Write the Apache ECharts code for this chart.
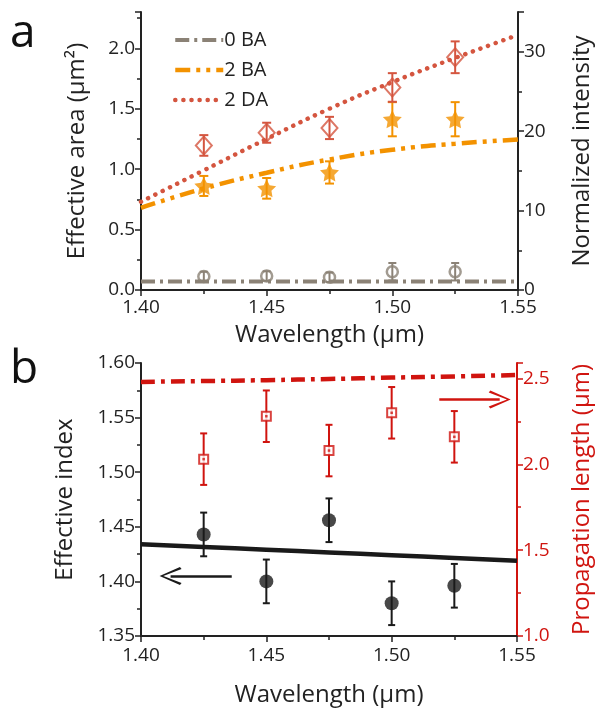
<!DOCTYPE html>
<html><head><meta charset="utf-8">
<script src="https://cdn.jsdelivr.net/npm/echarts@6/dist/echarts.min.js"></script>
<style>html,body{margin:0;padding:0;background:#fff}#c{width:602px;height:708px}</style>
</head><body><div id="c"></div>
<script>
// ---------- data ----------
const wlCurve = [1.40, 1.425, 1.45, 1.475, 1.50, 1.525, 1.55];
const wlMeas = [1.425, 1.45, 1.475, 1.50, 1.525];
// panel a: simulated effective area (µm²)
const area0BA = [0.07, 0.07, 0.07, 0.07, 0.07, 0.07, 0.07];
const area2BA = [0.68, 0.84, 0.97, 1.08, 1.16, 1.21, 1.245];
const area2DA = [0.73, 0.99, 1.25, 1.50, 1.72, 1.92, 2.11];
// panel a: measured normalized intensity + errors
const int0BA = [1.7, 1.76, 1.6, 2.3, 2.3];
const err0BA = [0.6, 0.6, 0.6, 1.1, 1.1];
const int2BA = [13.1, 12.8, 14.8, 21.5, 21.5];
const err2BA = [1.26, 1.3, 1.4, 2.15, 2.15];
const int2DA = [18.2, 19.8, 20.4, 25.5, 29.3];
const err2DA = [1.3, 1.26, 1.4, 1.8, 2.0];
// panel b
const indexSim = [1.434, 1.4315, 1.429, 1.4265, 1.424, 1.4215, 1.419];
const indexMeas = [1.443, 1.400, 1.456, 1.380, 1.396];
const indexErr = [0.02, 0.02, 0.02, 0.02, 0.02];
const propSim = [2.48, 2.485, 2.49, 2.497, 2.505, 2.512, 2.52];
const propMeas = [2.03, 2.28, 2.08, 2.30, 2.16];
const propErr = [0.15, 0.15, 0.15, 0.15, 0.15];
const legendNames = ['0 BA', '2 BA', '2 DA'];

// ---------- styles ----------
const FONT = '"Open Sans", sans-serif';
const GRAY = '#8b8276', ORANGE = '#f39200', CORAL = '#d4553f', RED = '#d0140f', BLACK = '#1a1a1a';
const pair = (xs, ys) => xs.map((x, i) => [x, ys[i]]);
const triple = (xs, ys, es) => xs.map((x, i) => [x, ys[i], es[i]]);

function errSeries(name, xi, yi, data, color, cap, lw) {
  return {
    type: 'custom', name: name, xAxisIndex: xi, yAxisIndex: yi, z: 3,
    encode: {x: 0, y: 1},
    data: data,
    renderItem: function (params, api) {
      const x = api.value(0), y = api.value(1), e = api.value(2);
      const lo = api.coord([x, y - e]), hi = api.coord([x, y + e]);
      const st = {stroke: color, lineWidth: lw};
      return {type: 'group', children: [
        {type: 'line', shape: {x1: lo[0], y1: lo[1], x2: hi[0], y2: hi[1]}, style: st},
        {type: 'line', shape: {x1: lo[0] - cap, y1: lo[1], x2: lo[0] + cap, y2: lo[1]}, style: st},
        {type: 'line', shape: {x1: hi[0] - cap, y1: hi[1], x2: hi[0] + cap, y2: hi[1]}, style: st}
      ]};
    }
  };
}

const STAR = 'path://M0,-10 L2.94,-4.05 L9.51,-3.09 L4.76,1.55 L5.88,8.09 L0,5 L-5.88,8.09 L-4.76,1.55 L-9.51,-3.09 L-2.94,-4.05 Z';
const CHEVRON = 'path://M9,0 L18,19 L16,20.5 L9,3.5 L2,20.5 L0,19 Z';

const lineStyles = {
  '0 BA': {color: GRAY, width: 4, type: [14, 5, 3, 5]},
  '2 BA': {color: ORANGE, width: 4.5, type: [15, 6, 4, 6, 4, 6]},
  '2 DA': {color: CORAL, width: 4.5, type: [0.1, 8], cap: 'round'}
};

const axisLineK = {show: true, lineStyle: {color: '#222', width: 2}};
function xAxisDef(gi, labelMargin, nameGap) {
  return {
    type: 'value', gridIndex: gi, min: 1.40, max: 1.55, interval: 0.05,
    axisLine: axisLineK, axisTick: {show: true, length: 6, lineStyle: {width: 1.5, color: '#222'}},
    minorTick: {show: true, splitNumber: 2, length: 4, lineStyle: {width: 1.5, color: '#222'}},
    splitLine: {show: false},
    axisLabel: {fontFamily: FONT, fontSize: 19, color: '#222', margin: labelMargin, formatter: v => v.toFixed(2)},
    name: 'Wavelength (μm)', nameLocation: 'middle', nameGap: nameGap,
    nameTextStyle: {fontFamily: FONT, fontSize: 24, color: '#222'}
  };
}
function yAxisDef(gi, pos, min, max, interval, digits, name, nameGap, color, showMax) {
  return {
    type: 'value', gridIndex: gi, position: pos, min: min, max: max, interval: interval,
    axisLine: {show: true, lineStyle: {color: color, width: 2}},
    axisTick: {show: true, length: 6, lineStyle: {width: 1.5, color: color}},
    minorTick: {show: true, splitNumber: 2, length: 4, lineStyle: {width: 1.5, color: color}},
    splitLine: {show: false},
    axisLabel: {fontFamily: FONT, fontSize: 19, color: color, margin: 6, showMaxLabel: showMax,
      formatter: v => v.toFixed(digits)},
    name: name, nameLocation: 'middle', nameGap: nameGap, nameRotate: 90,
    nameTextStyle: {fontFamily: FONT, fontSize: 24, color: color}
  };
}

const option = {
  animation: false,
  backgroundColor: '#fff',
  grid: [
    {left: 141, top: 12, width: 379, height: 278},
    {left: 141, top: 363, width: 381, height: 280}
  ],
  xAxis: [xAxisDef(0, 8, 33), xAxisDef(1, 10, 47)],
  yAxis: [
    yAxisDef(0, 'left', 0, 2.3, 0.5, 1, 'Effective area (μm²)', 52, '#222', false),
    yAxisDef(0, 'right', 0, 35, 10, 0, 'Normalized intensity', 52, '#222', false),
    yAxisDef(1, 'left', 1.35, 1.60, 0.05, 2, 'Effective index', 64, '#222', true),
    yAxisDef(1, 'right', 1.0, 2.59, 0.5, 1, 'Propagation length (μm)', 53, RED, false)
  ],
  legend: {
    data: legendNames.map(n => ({name: n, lineStyle: lineStyles[n]})),
    orient: 'vertical', left: 168, top: 25,
    itemWidth: 48, itemHeight: 14, itemGap: 10,
    itemStyle: {color: 'rgba(0,0,0,0)', borderWidth: 0, opacity: 0},
    textStyle: {fontFamily: FONT, fontSize: 20, color: '#222', padding: [0, 0, 0, -4]}
  },
  graphic: [
    {type: 'text', left: 10, top: 11, style: {text: 'a', fontFamily: FONT, fontSize: 46, fill: '#111'}},
    {type: 'text', left: 10, top: 347, style: {text: 'b', fontFamily: FONT, fontSize: 46, fill: '#111'}}
  ],
  series: [
    {type: 'line', name: '0 BA', xAxisIndex: 0, yAxisIndex: 0, data: pair(wlCurve, area0BA), symbol: 'none',
      lineStyle: lineStyles['0 BA'], itemStyle: {color: GRAY}, z: 2},
    {type: 'line', name: '2 BA', xAxisIndex: 0, yAxisIndex: 0, data: pair(wlCurve, area2BA), symbol: 'none', smooth: true,
      lineStyle: lineStyles['2 BA'], itemStyle: {color: ORANGE}, z: 2},
    {type: 'line', name: '2 DA', xAxisIndex: 0, yAxisIndex: 0, data: pair(wlCurve, area2DA), symbol: 'none', smooth: true,
      lineStyle: lineStyles['2 DA'], itemStyle: {color: CORAL}, z: 2},
    errSeries('e0', 0, 1, triple(wlMeas, int0BA, err0BA), GRAY, 4, 2),
    errSeries('e1', 0, 1, triple(wlMeas, int2BA, err2BA), ORANGE, 4.5, 2),
    errSeries('e2', 0, 1, triple(wlMeas, int2DA, err2DA), CORAL, 4.5, 2),
    {type: 'scatter', name: 'm0', xAxisIndex: 0, yAxisIndex: 1, data: pair(wlMeas, int0BA), symbol: 'circle', symbolSize: 11, z: 4,
      itemStyle: {color: 'rgba(255,255,255,0)', borderColor: GRAY, borderWidth: 2.5}},
    {type: 'scatter', name: 'm1', xAxisIndex: 0, yAxisIndex: 1, data: pair(wlMeas, int2BA), symbol: STAR, symbolSize: [19, 18], z: 4,
      itemStyle: {color: ORANGE}},
    {type: 'scatter', name: 'm2', xAxisIndex: 0, yAxisIndex: 1, data: pair(wlMeas, int2DA), symbol: 'diamond', symbolSize: [16, 18], z: 4,
      itemStyle: {color: 'rgba(255,255,255,0)', borderColor: CORAL, borderWidth: 2}},
    // panel b
    {type: 'line', name: 'nsim', xAxisIndex: 1, yAxisIndex: 2, data: pair(wlCurve, indexSim), symbol: 'none', smooth: true,
      lineStyle: {color: BLACK, width: 4.5}, z: 2,
      markLine: {silent: true, symbol: ['none', CHEVRON], symbolSize: [18, 22], label: {show: false},
        lineStyle: {color: BLACK, width: 2.5, type: 'solid'},
        data: [[{coord: [1.4362, 1.4049]}, {coord: [1.4118, 1.4049]}]]}},
    {type: 'line', name: 'psim', xAxisIndex: 1, yAxisIndex: 3, data: pair(wlCurve, propSim), symbol: 'none', smooth: true,
      lineStyle: {color: RED, width: 4.5, type: [14, 6, 4, 6]}, z: 2,
      markLine: {silent: true, symbol: ['none', CHEVRON], symbolSize: [18, 22], label: {show: false},
        lineStyle: {color: RED, width: 2.5, type: 'solid'},
        data: [[{coord: [1.519, 2.377]}, {coord: [1.5431, 2.377]}]]}},
    errSeries('eb1', 1, 2, triple(wlMeas, indexMeas, indexErr), BLACK, 3.5, 2),
    errSeries('eb2', 1, 3, triple(wlMeas, propMeas, propErr), RED, 3.5, 2),
    {type: 'scatter', name: 'nm', xAxisIndex: 1, yAxisIndex: 2, data: pair(wlMeas, indexMeas), symbol: 'circle', symbolSize: 14, z: 4,
      itemStyle: {color: BLACK}},
    {type: 'scatter', name: 'pm', xAxisIndex: 1, yAxisIndex: 3, data: pair(wlMeas, propMeas), symbol: 'rect', symbolSize: 9, z: 4,
      itemStyle: {color: '#fff', borderColor: RED, borderWidth: 2}},
    {type: 'scatter', name: 'pmdot', xAxisIndex: 1, yAxisIndex: 3, data: pair(wlMeas, propMeas), symbol: 'rect', symbolSize: 2.5, z: 5,
      itemStyle: {color: RED}}
  ]
};
const chart = echarts.init(document.getElementById('c'), null, {renderer: 'canvas'});
chart.setOption(option);
</script></body></html>
